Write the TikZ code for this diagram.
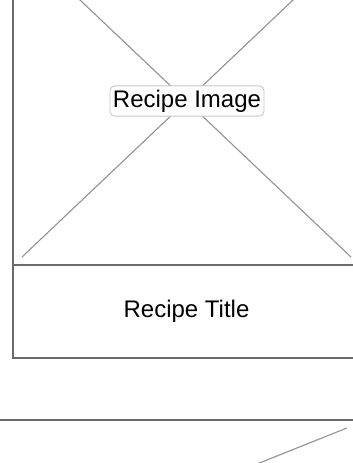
\documentclass[tikz,border=0pt]{standalone}
\usepackage{fontspec}
\setmainfont{Liberation Sans}
\definecolor{framegray}{HTML}{6A6A6A}
\definecolor{crossgray}{HTML}{929292}
\definecolor{tagborder}{HTML}{C8C8C8}
\tikzset{
  frame/.style={draw=framegray, line width=1.7pt},
  cross/.style={draw=crossgray, line width=1.1pt},
  tag/.style={draw=tagborder, fill=white, rounded corners=5pt, line width=0.9pt,
    inner xsep=3pt, inner ysep=4pt, font=\fontsize{24}{28}\selectfont},
  caption/.style={font=\fontsize{24}{28}\selectfont}
}
\begin{document}
\begin{tikzpicture}[x=1pt, y=-1pt]
  \useasboundingbox (0,0) rectangle (353,463);
  \clip (0,0) rectangle (353,463);

  % image placeholder with its cross
  \draw[frame] (13,-64) rectangle (360,265);
  \draw[cross] (22,-55) -- (351,257);
  \draw[cross] (22,257) -- (351,-55);
  \node[tag] (img) at (187,101) {Recipe Image};

  % title strip under the image
  \draw[frame] (13,265) rectangle (360,358);
  \node[caption] (title) at (186.5,311.5) {Recipe Title};

  % next card, cut off by the page
  \draw[frame] (-20,420) rectangle (356,580);
  \draw[cross] (347,428) -- (-11,571);
\end{tikzpicture}
\end{document}
